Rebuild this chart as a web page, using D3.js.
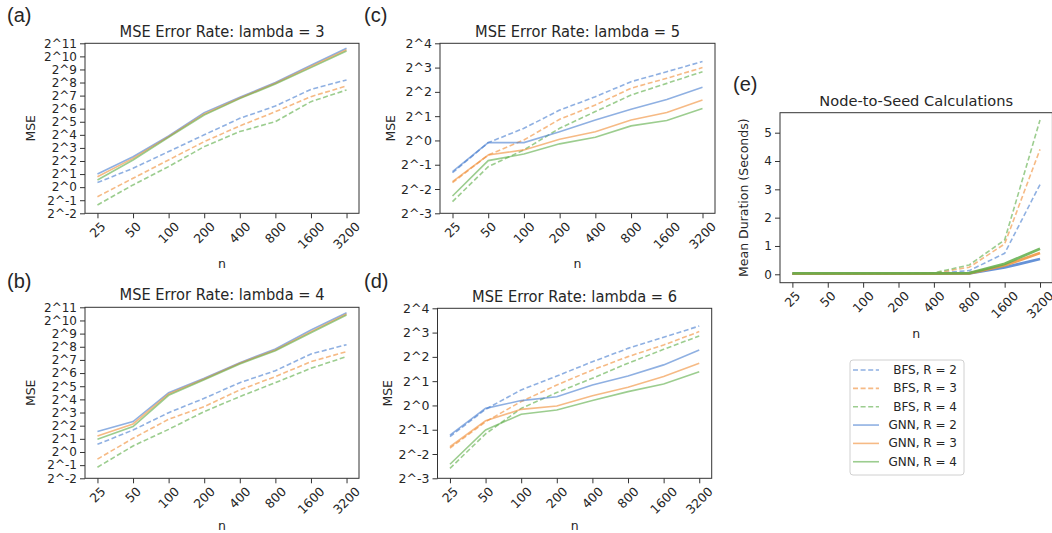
<!DOCTYPE html>
<html><head><meta charset="utf-8">
<script src="https://cdn.jsdelivr.net/npm/d3@7"></script>
<style>
body{margin:0;background:#fff;}
text{font-family:"DejaVu Sans",sans-serif;fill:#262626;}
</style>
</head><body>
<svg id="c" width="1052" height="533"></svg>
<script>
// ---------- data ----------
const nLabels = ["25","50","100","200","400","800","1600","3200"];
const seriesNames = ["BFS, R = 2","BFS, R = 3","BFS, R = 4","GNN, R = 2","GNN, R = 3","GNN, R = 4"];
const expTicksAB = [-2,-1,0,1,2,3,4,5,6,7,8,9,10,11];
const expTicksCD = [-3,-2,-1,0,1,2,3,4];
const durationTicks = [0,1,2,3,4,5];

// log2(MSE), lambda = 3
const l3_bfs2 = [0.35,1.44,2.72,4.0,5.26,6.2,7.48,8.2];
const l3_bfs3 = [-0.73,0.68,2.08,3.48,4.68,5.77,6.92,7.74];
const l3_bfs4 = [-1.36,0.17,1.57,3.1,4.25,5.01,6.54,7.43];
const l3_gnn2 = [1.0,2.33,3.91,5.7,6.87,8.0,9.32,10.62];
const l3_gnn3 = [0.8,2.2,3.86,5.6,6.82,7.94,9.22,10.5];
const l3_gnn4 = [0.55,2.08,3.81,5.52,6.77,7.89,9.14,10.41];
// lambda = 4
const l4_bfs2 = [0.58,1.67,2.99,4.08,5.27,6.18,7.45,8.16];
const l4_bfs3 = [-0.54,1.04,2.49,3.45,4.72,5.73,6.87,7.63];
const l4_bfs4 = [-1.16,0.46,1.72,3.07,4.21,5.27,6.36,7.25];
const l4_gnn2 = [1.55,2.31,4.51,5.6,6.79,7.83,9.28,10.59];
const l4_gnn3 = [1.22,2.13,4.41,5.55,6.74,7.76,9.15,10.49];
const l4_gnn4 = [0.96,1.93,4.31,5.5,6.69,7.7,9.07,10.42];
// lambda = 5
const l5_bfs2 = [-1.33,-0.09,0.5,1.25,1.8,2.42,2.83,3.25];
const l5_bfs3 = [-1.74,-0.6,0.02,0.87,1.46,2.15,2.56,3.0];
const l5_bfs4 = [-2.52,-1.08,-0.39,0.5,1.19,1.87,2.35,2.83];
const l5_gnn2 = [-1.28,-0.09,-0.09,0.36,0.84,1.28,1.69,2.19];
const l5_gnn3 = [-1.7,-0.6,-0.39,0.05,0.36,0.84,1.15,1.67];
const l5_gnn4 = [-2.29,-0.83,-0.56,-0.14,0.13,0.6,0.82,1.32];
// lambda = 6
const l6_bfs2 = [-1.28,-0.16,0.64,1.21,1.8,2.35,2.81,3.27];
const l6_bfs3 = [-1.76,-0.67,0.16,0.84,1.46,2.01,2.49,3.04];
const l6_bfs4 = [-2.59,-1.17,-0.12,0.53,1.12,1.74,2.31,2.86];
const l6_gnn2 = [-1.22,-0.12,0.2,0.36,0.84,1.21,1.67,2.28];
const l6_gnn3 = [-1.7,-0.63,-0.16,-0.02,0.4,0.75,1.19,1.74];
const l6_gnn4 = [-2.42,-1.01,-0.36,-0.19,0.2,0.57,0.88,1.39];
// mean duration (seconds)
const dur_bfs2 = [0.01,0.01,0.015,0.02,0.03,0.13,0.74,3.17];
const dur_bfs3 = [0.01,0.01,0.015,0.02,0.04,0.25,1.07,4.41];
const dur_bfs4 = [0.01,0.01,0.015,0.025,0.05,0.33,1.21,5.45];
const dur_gnn2 = [0.02,0.02,0.02,0.02,0.02,0.03,0.24,0.54];
const dur_gnn3 = [0.02,0.02,0.02,0.02,0.02,0.03,0.31,0.75];
const dur_gnn4 = [0.03,0.03,0.03,0.03,0.03,0.04,0.37,0.9];

// ---------- styles ----------
const colors = ["#4a7fd0","#f0903a","#5fae4a","#4a7fd0","#f0903a","#5fae4a"];
const dashed = [true,true,true,false,false,false];

const svg = d3.select("#c");

function panel(cfg){
  const g = svg.append("g");
  const x = d3.scalePoint().domain(nLabels).range([cfg.x0,cfg.x1]).padding(0.35);
  const y = d3.scaleLinear().domain(cfg.domain).range([cfg.y1,cfg.y0]);
  const line = d3.line().x((d,i)=>x(nLabels[i])).y(d=>y(d));

  cfg.series.forEach((s,i)=>{
    const solidE = cfg.isE && !dashed[i];
    g.append("path").attr("d",line(s)).attr("fill","none")
      .attr("stroke",colors[i])
      .attr("stroke-width", solidE ? 2.8 : 1.6)
      .attr("stroke-opacity", solidE ? 0.85 : 0.62)
      .attr("stroke-dasharray", dashed[i] ? "5,2.6" : null);
  });

  g.append("rect").attr("x",cfg.x0).attr("y",cfg.y0)
    .attr("width",cfg.x1-cfg.x0).attr("height",cfg.y1-cfg.y0)
    .attr("fill","none").attr("stroke","#333").attr("stroke-width",1);

  const ya = d3.axisLeft(y).tickValues(cfg.ticks).tickSize(5).tickPadding(3)
    .tickFormat(cfg.fmt);
  const yg = g.append("g").attr("transform",`translate(${cfg.x0},0)`).call(ya);
  yg.select(".domain").remove();
  yg.selectAll(".tick line").attr("stroke","#333");
  yg.selectAll(".tick text").style("font-size",cfg.yfs+"px").attr("fill","#262626")
    .style("font-family","DejaVu Sans");

  const xa = d3.axisBottom(x).tickSize(5).tickFormat("");
  const xg = g.append("g").attr("transform",`translate(0,${cfg.y1})`).call(xa);
  xg.select(".domain").remove();
  xg.selectAll(".tick line").attr("stroke","#333");
  const fs = 12.5;
  nLabels.forEach(t=>{
    const lab = g.append("text").attr("text-anchor","middle")
      .attr("dominant-baseline","central").style("font-size",fs+"px").text(t);
    const w = lab.node().getComputedTextLength();
    const h = fs*0.75;
    const half = (w+h)/(2*Math.SQRT2);
    lab.attr("transform",`translate(${x(t)},${cfg.y1+5+2.5+half}) rotate(-45)`);
  });

  g.append("text").attr("x",(cfg.x0+cfg.x1)/2).attr("y",cfg.xlabY)
    .attr("text-anchor","middle").attr("dominant-baseline","central")
    .style("font-size","12.5px").text("n");
  g.append("text").attr("transform",`translate(${cfg.ylabX},${(cfg.y0+cfg.y1)/2}) rotate(-90)`)
    .attr("text-anchor","middle").attr("dominant-baseline","central")
    .style("font-size","12.5px").text(cfg.ylabel);
  const tt = g.append("text").attr("x",(cfg.x0+cfg.x1)/2).attr("y",cfg.titleY)
    .attr("text-anchor","middle").style("font-size",cfg.tfs+"px").text(cfg.title);
  if(cfg.tlen) tt.attr("textLength",cfg.tlen).attr("lengthAdjust","spacingAndGlyphs");
  g.append("text").attr("x",cfg.labX).attr("y",cfg.labY)
    .style("font-family","Liberation Sans, Arial, sans-serif")
    .style("font-size","20px").attr("fill","#111").text(cfg.label);
}

const powFmt = d=>"2^"+d;

panel({x0:85,x1:359,y0:43.3,y1:213.3,domain:[-2,11],ticks:expTicksAB,fmt:powFmt,yfs:12,
  series:[l3_bfs2,l3_bfs3,l3_bfs4,l3_gnn2,l3_gnn3,l3_gnn4],
  title:"MSE Error Rate: lambda = 3",titleY:36.5,tfs:16,tlen:205,label:"(a)",labX:7,labY:22,
  ylabel:"MSE",ylabX:30,xlabY:263});
panel({x0:85,x1:359,y0:307.3,y1:478.3,domain:[-2,11],ticks:expTicksAB,fmt:powFmt,yfs:12,
  series:[l4_bfs2,l4_bfs3,l4_bfs4,l4_gnn2,l4_gnn3,l4_gnn4],
  title:"MSE Error Rate: lambda = 4",titleY:300,tfs:16,tlen:205,label:"(b)",labX:7,labY:288,
  ylabel:"MSE",ylabX:30,xlabY:525});
panel({x0:440,x1:715,y0:43.3,y1:213.3,domain:[-3,4],ticks:expTicksCD,fmt:powFmt,yfs:12.5,
  series:[l5_bfs2,l5_bfs3,l5_bfs4,l5_gnn2,l5_gnn3,l5_gnn4],
  title:"MSE Error Rate: lambda = 5",titleY:36.5,tfs:16,tlen:205,label:"(c)",labX:364,labY:22,
  ylabel:"MSE",ylabX:390,xlabY:263});
panel({x0:437.5,x1:711.7,y0:308.3,y1:478.3,domain:[-3,4],ticks:expTicksCD,fmt:powFmt,yfs:12.5,
  series:[l6_bfs2,l6_bfs3,l6_bfs4,l6_gnn2,l6_gnn3,l6_gnn4],
  title:"MSE Error Rate: lambda = 6",titleY:301.5,tfs:16,tlen:205,label:"(d)",labX:364,labY:288,
  ylabel:"MSE",ylabX:387,xlabY:525});
panel({x0:780,x1:1052.4,y0:112.7,y1:282.7,domain:[-0.297,5.706],ticks:durationTicks,fmt:d3.format("d"),yfs:12,
  series:[dur_bfs2,dur_bfs3,dur_bfs4,dur_gnn2,dur_gnn3,dur_gnn4],isE:true,
  title:"Node-to-Seed Calculations",titleY:106,tfs:14.6,label:"(e)",labX:733,labY:91,
  ylabel:"Mean Duration (Seconds)",ylabX:743,xlabY:333});

// ---------- legend ----------
const lg = svg.append("g");
lg.append("rect").attr("x",850).attr("y",360).attr("width",114).attr("height",115)
  .attr("rx",3).attr("fill","#fff").attr("stroke","#d0d0d0").attr("stroke-width",1);
seriesNames.forEach((nm,i)=>{
  const yy = 370 + i*18.35;
  lg.append("line").attr("x1",853).attr("x2",879).attr("y1",yy).attr("y2",yy)
    .attr("stroke",colors[i]).attr("stroke-width",1.6).attr("stroke-opacity",0.62)
    .attr("stroke-dasharray",dashed[i]?"5,2.6":null);
  lg.append("text").attr("x",957).attr("y",yy).attr("text-anchor","end")
    .attr("dominant-baseline","central").style("font-size","12px").text(nm);
});
</script>
</body></html>
